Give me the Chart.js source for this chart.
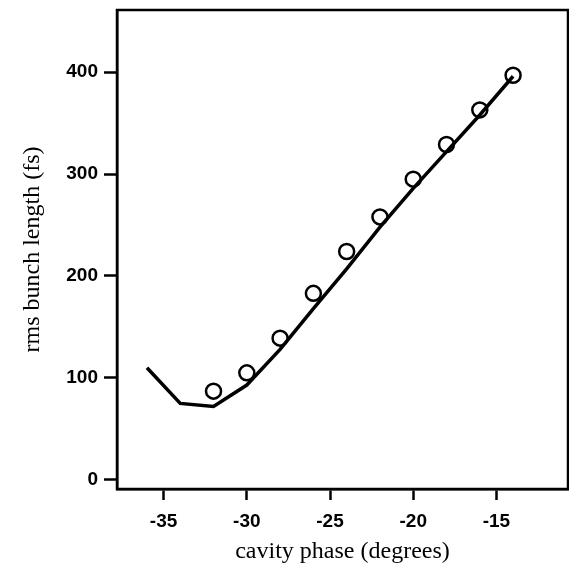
<!DOCTYPE html>
<html>
<head>
<meta charset="utf-8">
<script src="https://cdn.jsdelivr.net/npm/chart.js@4"></script>
<style>
  html, body { margin: 0; padding: 0; background: #fff; overflow: hidden; }
  #wrap { width: 569px; height: 576px; }
</style>
</head>
<body>
<div id="wrap"><canvas id="bunch-chart"></canvas></div>
<script>
// measured points (circles)
const measPhase = [-32, -30, -28, -26, -24, -22, -20, -18, -16, -14];
const measLength = [87, 105, 139, 183, 224, 258, 295, 329, 363, 397];

// simulation curve (solid line)
const simPhase = [-36, -34, -32, -30, -28, -26, -24, -22, -20, -18, -16, -14];
const simLength = [110, 75, 72, 93, 128, 168, 207, 248, 286, 322, 358, 396];

// tick labels
const xTicks = [-35, -30, -25, -20, -15];
const yTicks = [0, 100, 200, 300, 400];

const toXY = (xs, ys) => xs.map((x, i) => ({ x: x, y: ys[i] }));

// draws the closed box round the plot area
const frame = {
  id: 'frame',
  afterDraw(chart) {
    const a = chart.chartArea;
    const ctx = chart.ctx;
    ctx.save();
    ctx.strokeStyle = '#000';
    ctx.lineWidth = 2.5;
    ctx.strokeRect(a.left, a.top, a.right - a.left, a.bottom - a.top);
    ctx.restore();
  }
};

const tickFont = { family: '"Liberation Sans", Arial, sans-serif', size: 19, weight: 'bold' };
const titleFont = { family: '"Liberation Serif", "Times New Roman", serif', size: 24 };

new Chart(document.getElementById('bunch-chart').getContext('2d'), {
  type: 'scatter',
  data: {
    datasets: [
      {
        label: 'simulation',
        data: toXY(simPhase, simLength),
        showLine: true,
        borderColor: '#000',
        borderWidth: 3.5,
        pointRadius: 0,
        tension: 0
      },
      {
        label: 'measured',
        data: toXY(measPhase, measLength),
        showLine: false,
        pointStyle: 'circle',
        pointRadius: 7.5,
        pointBorderWidth: 2.5,
        pointBorderColor: '#000',
        pointBackgroundColor: 'rgba(255,255,255,0)'
      }
    ]
  },
  options: {
    responsive: true,
    maintainAspectRatio: false,
    animation: false,
    layout: { autoPadding: false, padding: { top: 10, right: 1, left: 0, bottom: 0 } },
    plugins: { legend: { display: false }, tooltip: { enabled: false } },
    scales: {
      x: {
        type: 'linear',
        min: -37.8,
        max: -10.7,
        afterBuildTicks: s => { s.ticks = xTicks.map(v => ({ value: v })); },
        afterFit: s => { s.height = 87; s.paddingLeft = 0; s.paddingRight = 0; },
        ticks: { color: '#000', font: tickFont, padding: 10 },
        grid: { drawOnChartArea: false, drawTicks: true, tickLength: 11, tickWidth: 2.5, tickColor: '#000' },
        border: { display: true, color: '#000', width: 2.5 },
        title: { display: true, text: 'cavity phase (degrees)', color: '#000', font: titleFont, padding: { top: 0, bottom: 10 } }
      },
      y: {
        type: 'linear',
        min: -9,
        max: 461,
        afterBuildTicks: s => { s.ticks = yTicks.map(v => ({ value: v })); },
        afterFit: s => { s.width = 117; s.paddingTop = 0; s.paddingBottom = 0; },
        ticks: { color: '#000', font: tickFont, padding: 6 },
        grid: { drawOnChartArea: false, drawTicks: true, tickLength: 13, tickWidth: 2.5, tickColor: '#000' },
        border: { display: true, color: '#000', width: 2.5 },
        title: { display: true, text: 'rms bunch length (fs)', color: '#000', font: titleFont, padding: { top: 18, bottom: 0 } }
      }
    }
  },
  plugins: [frame]
});
</script>
</body>
</html>
